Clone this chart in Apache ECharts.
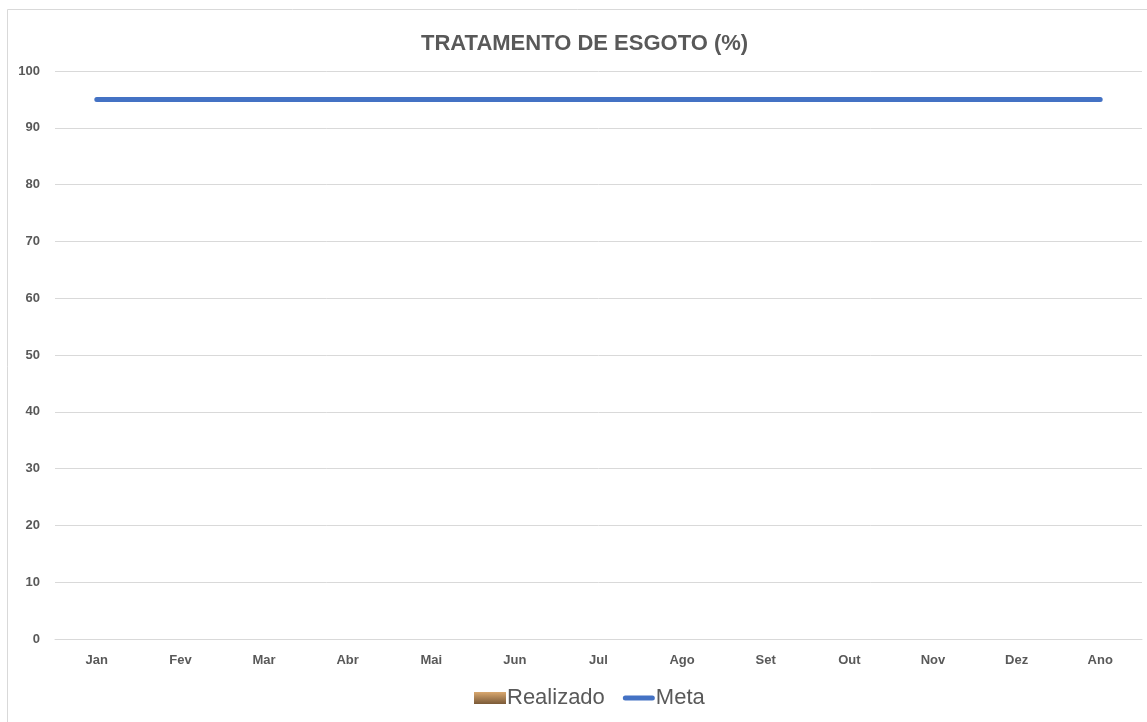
<!DOCTYPE html>
<html>
<head>
<meta charset="utf-8">
<script src="https://cdn.jsdelivr.net/npm/echarts@6/dist/echarts.min.js"></script>
<style>
html,body{margin:0;padding:0;background:#fff;}
#chart{width:1147px;height:722px;}
</style>
</head>
<body>
<div id="chart"></div>
<script>
const categories = ['Jan','Fev','Mar','Abr','Mai','Jun','Jul','Ago','Set','Out','Nov','Dez','Ano'];
const realizado = [null,null,null,null,null,null,null,null,null,null,null,null,null];
const meta = [95,95,95,95,95,95,95,95,95,95,95,95,95];
const yTicks = [0,10,20,30,40,50,60,70,80,90,100];

const chart = echarts.init(document.getElementById('chart'));
chart.setOption({
  animation: false,
  backgroundColor: '#fff',
  title: {
    text: 'TRATAMENTO DE ESGOTO (%)',
    left: 416,
    top: 28,
    textStyle: {
      fontFamily: '"Liberation Sans Narrow", "Liberation Sans", Arial, sans-serif',
      fontWeight: 'bold',
      fontSize: 22,
      color: '#595959'
    }
  },
  graphic: [
    { type: 'rect', shape: { x: 7.5, y: 9.5, width: 1145, height: 720 },
      style: { fill: 'none', stroke: '#d9d9d9', lineWidth: 1 }, silent: true }
  ],
  legend: {
    bottom: 8,
    left: 469,
    itemGap: 18,
    itemWidth: 32,
    itemHeight: 12,
    textStyle: {
      fontFamily: '"Liberation Sans Narrow", "Liberation Sans", Arial, sans-serif',
      fontSize: 22,
      color: '#595959',
      padding: [0, 0, 0, -4]
    },
    data: [
      { name: 'Realizado', icon: 'rect' },
      { name: 'Meta', icon: 'path://M2.5,0H29.5A2.5,2.5,0,0,1,29.5,5H2.5A2.5,2.5,0,0,1,2.5,0Z' }
    ]
  },
  grid: { left: 55, right: 5, top: 71, bottom: 83, containLabel: false },
  xAxis: {
    type: 'category',
    data: categories,
    boundaryGap: true,
    axisLine: { show: true, lineStyle: { color: '#d9d9d9', width: 1 } },
    axisTick: { show: false },
    axisLabel: {
      fontFamily: '"Liberation Sans", Arial, sans-serif',
      fontWeight: 'bold',
      fontSize: 13,
      color: '#595959',
      margin: 15
    }
  },
  yAxis: {
    type: 'value',
    min: 0, max: 100, interval: 10,
    axisLine: { show: false },
    axisTick: { show: false },
    splitLine: { lineStyle: { color: '#d9d9d9', width: 1 } },
    axisLabel: {
      fontFamily: '"Liberation Sans", Arial, sans-serif',
      fontWeight: 'bold',
      fontSize: 13,
      color: '#595959',
      margin: 15,
      formatter: v => yTicks.includes(v) ? String(v) : ''
    }
  },
  series: [
    {
      name: 'Realizado',
      type: 'bar',
      data: realizado,
      itemStyle: {
        color: new echarts.graphic.LinearGradient(0, 0, 0, 1, [
          { offset: 0, color: '#D9A86F' },
          { offset: 1, color: '#7A5A38' }
        ])
      }
    },
    {
      name: 'Meta',
      type: 'line',
      data: meta,
      symbol: 'none',
      lineStyle: { color: '#4472C4', width: 5, cap: 'round' },
      itemStyle: { color: '#4472C4' }
    }
  ]
});
</script>
</body>
</html>
